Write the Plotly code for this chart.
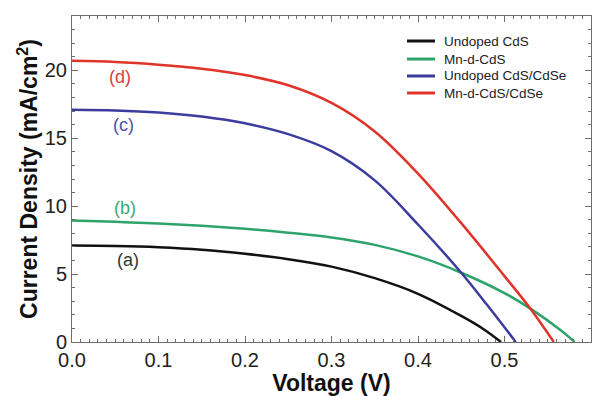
import plotly.graph_objects as go

# --- data ---
V_a = [0, 0.05, 0.1, 0.15, 0.2, 0.25, 0.3, 0.35, 0.4, 0.45, 0.475, 0.496]
J_a = [7.10, 7.07, 6.98, 6.80, 6.50, 6.10, 5.55, 4.70, 3.55, 1.92, 0.98, 0]

V_b = [0, 0.05, 0.1, 0.15, 0.2, 0.25, 0.3, 0.35, 0.4, 0.45, 0.5, 0.533, 0.565, 0.581]
J_b = [8.95, 8.85, 8.72, 8.55, 8.33, 8.05, 7.70, 7.15, 6.30, 5.10, 3.60, 2.33, 0.86, 0]

V_c = [0, 0.05, 0.1, 0.15, 0.2, 0.25, 0.3, 0.35, 0.4, 0.45, 0.48, 0.513]
J_c = [17.1, 17.05, 16.9, 16.6, 16.1, 15.3, 14.05, 11.9, 8.65, 5.1, 2.72, 0]

V_d = [0, 0.05, 0.1, 0.15, 0.2, 0.25, 0.3, 0.35, 0.4, 0.45, 0.5, 0.53, 0.557]
J_d = [20.7, 20.62, 20.42, 20.12, 19.65, 18.9, 17.6, 15.5, 12.4, 8.75, 4.85, 2.45, 0]

names = ["Undoped CdS", "Mn-d-CdS", "Undoped CdS/CdSe", "Mn-d-CdS/CdSe"]
colors = ["#111111", "#2ea36b", "#3b3c9e", "#e03329"]
labels = ["(a)", "(b)", "(c)", "(d)"]
label_colors = ["#333333", "#3aa87a", "#4a52a8", "#d8413a"]
label_x = [0.065, 0.061, 0.059, 0.056]
label_y = [6.07, 9.9, 16.0, 19.5]

series = [(V_a, J_a), (V_b, J_b), (V_c, J_c), (V_d, J_d)]

FONT = "Liberation Sans, Arial, Helvetica, sans-serif"

fig = go.Figure()
for (v, j), n, c in zip(series, names, colors):
    fig.add_trace(go.Scatter(x=v, y=j, mode="lines", name=n, showlegend=False,
                             line=dict(color=c, width=2.5, shape="spline", smoothing=1.0)))

for t, x, y, c in zip(labels, label_x, label_y, label_colors):
    fig.add_annotation(x=x, y=y, text=t, showarrow=False,
                       font=dict(size=18, color=c, family=FONT))

# manual legend (paper coordinates)
leg_x0, leg_x1, leg_tx = 0.6455, 0.6994, 0.7129
leg_rows = [0.9233, 0.868, 0.816, 0.7638]
for n, c, yy in zip(names, colors, leg_rows):
    fig.add_shape(type="line", xref="paper", yref="paper",
                  x0=leg_x0, x1=leg_x1, y0=yy, y1=yy,
                  line=dict(color=c, width=3))
    fig.add_annotation(xref="paper", yref="paper", x=leg_tx, y=yy, text=n,
                       showarrow=False, xanchor="left", yanchor="middle",
                       font=dict(size=13.5, color="#222222", family=FONT))

axis_common = dict(
    showline=True, linecolor="#6e6e6e", linewidth=1, mirror="allticks",
    ticks="inside", ticklen=6, tickcolor="#6e6e6e", tickwidth=1,
    showgrid=False, zeroline=False, automargin=False,
    tickfont=dict(size=20, color="#222222", family=FONT),
)

fig.update_xaxes(range=[0, 0.6], dtick=0.1, tickformat=".1f",
                 minor=dict(dtick=0.01, ticks="inside", ticklen=3, tickcolor="#6e6e6e"),
                 title=dict(text="<b>Voltage (V)</b>", standoff=0,
                            font=dict(size=23, color="#111111", family=FONT)),
                 **axis_common)
fig.update_yaxes(range=[0, 24], dtick=5,
                 minor=dict(dtick=1, ticks="inside", ticklen=3, tickcolor="#6e6e6e"),
                 title=dict(text="<b>Current Density (mA/cm<sup>2</sup>)</b>", standoff=0,
                            font=dict(size=23, color="#111111", family=FONT)),
                 **axis_common)

# page body has an 8px margin, so the figure is sized/offset to place the
# plot area at the reference's pixel position
fig.update_layout(
    width=595, height=388,
    margin=dict(l=64, r=12, t=8, b=54),
    paper_bgcolor="white", plot_bgcolor="white",
    showlegend=False,
)

fig.write_html("out.html")
